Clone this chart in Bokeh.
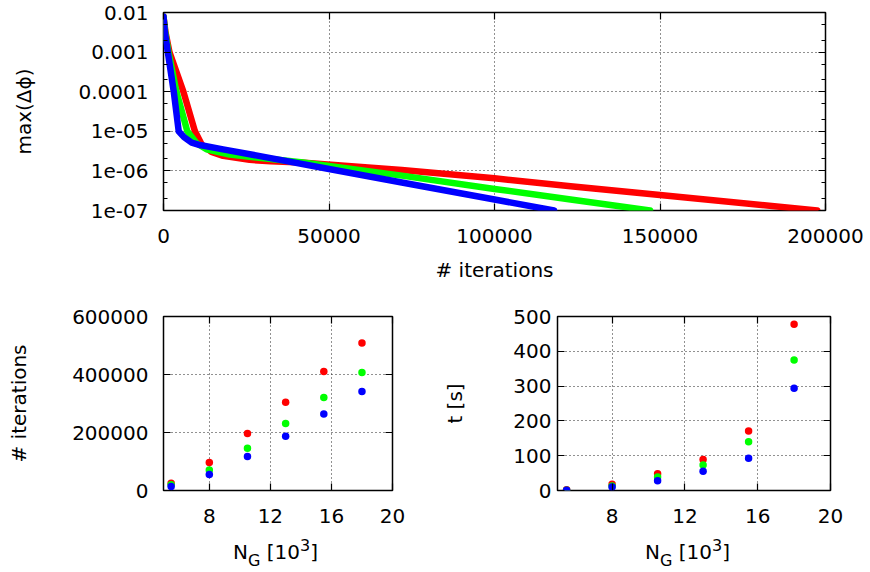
from bokeh.plotting import figure
from bokeh.layouts import column, row
from bokeh.models import (Range1d, FixedTicker, CustomJSTickFormatter,
                          LinearAxis, LogAxis, Div)
from bokeh.embed import file_html
from bokeh.resources import INLINE

FONT = "DejaVu Sans"
FS = "20px"
RED, GREEN, BLUE = "#ff0000", "#00ff00", "#0000ff"

# ---------------- data: convergence history (top panel) ----------------
red_iter = [0, 600, 1800, 6000, 9500, 11500, 14500, 18000, 26000, 32400,
            41500, 72000, 100000, 123000, 150000, 197500]
red_dphi = [7.9e-3, 3.2e-3, 1.0e-3, 1.0e-4, 1.0e-5, 4.7e-6, 3.0e-6, 2.4e-6,
            1.9e-6, 1.74e-6, 1.62e-6, 1.05e-6, 6.5e-7, 4.1e-7, 2.45e-7, 1.0e-7]

green_iter = [0, 500, 1500, 3900, 7200, 10000, 13000, 20000, 32400, 41500,
              72000, 100000, 123000, 147000]
green_dphi = [7.9e-3, 3.2e-3, 1.0e-3, 1.0e-4, 1.0e-5, 5.0e-6, 3.5e-6, 2.6e-6,
              2.0e-6, 1.66e-6, 7.6e-7, 3.5e-7, 1.9e-7, 1.0e-7]

blue_iter = [0, 400, 1300, 3100, 4600, 6200, 8500, 11000, 18000, 32400,
             50000, 72000, 100000, 118000]
blue_dphi = [7.9e-3, 3.2e-3, 1.0e-3, 1.0e-4, 1.0e-5, 7.1e-6, 5.2e-6, 4.5e-6,
             3.5e-6, 2.1e-6, 1.12e-6, 5.1e-7, 1.9e-7, 1.0e-7]

# ---------------- data: scaling with grid size (bottom panels) ----------------
n_g = [5.5, 8.0, 10.5, 13.0, 15.5, 18.0]
iters_red = [25000, 96500, 196500, 304500, 410000, 509000]
iters_green = [19500, 71000, 146000, 231000, 320500, 407000]
iters_blue = [13800, 55000, 117000, 187000, 264000, 341000]
time_red = [2, 18, 48, 89, 171, 478]
time_green = [1, 13, 39, 73, 140, 375]
time_blue = [0.5, 10, 28, 55, 93, 294]

# ---------------- ticks and tick labels ----------------
top_x_ticks = [0, 50000, 100000, 150000, 200000]
top_x_labels = ["0", "50000", "100000", "150000", "200000"]
top_y_ticks = [1e-7, 1e-6, 1e-5, 1e-4, 1e-3, 1e-2]
top_y_labels = ["1e-07", "1e-06", "1e-05", "0.0001", "0.001", "0.01"]
top_y_minor = [m * 10.0 ** k for k in range(-7, -2) for m in (2, 5)]
ng_ticks = [8, 12, 16, 20]
ng_labels = ["8", "12", "16", "20"]
iter_ticks = [0, 200000, 400000, 600000]
iter_labels = ["0", "200000", "400000", "600000"]
time_ticks = [0, 100, 200, 300, 400, 500]
time_labels = ["0", "100", "200", "300", "400", "500"]

LOOKUP = """
for (let i = 0; i < tv.length; i++) {
    const a = tv[i];
    if (a === tick || Math.abs(a - tick) <= 1e-9 * Math.max(Math.abs(a), Math.abs(tick)))
        return tl[i];
}
return "";
"""


def fmt(tick_values, tick_labels):
    return CustomJSTickFormatter(args=dict(tv=tick_values, tl=tick_labels), code=LOOKUP)


def blank():
    return CustomJSTickFormatter(code="return '';")


def style_axis(ax, standoff=12, label_standoff=10):
    ax.axis_line_color = None
    ax.major_tick_in = 7
    ax.major_tick_out = 0
    ax.minor_tick_in = 4
    ax.minor_tick_out = 0
    ax.major_tick_line_color = "black"
    ax.minor_tick_line_color = "black"
    ax.major_tick_line_width = 1.2
    ax.minor_tick_line_width = 1.0
    ax.major_label_text_font = FONT
    ax.major_label_text_font_size = FS
    ax.major_label_text_color = "black"
    ax.major_label_standoff = standoff
    ax.axis_label_text_font = FONT
    ax.axis_label_text_font_size = FS
    ax.axis_label_text_font_style = "normal"
    ax.axis_label_text_color = "black"
    ax.axis_label_standoff = label_standoff


def mirror(p, cls, ticker, side):
    ax = cls(ticker=ticker, formatter=blank())
    style_axis(ax, standoff=0, label_standoff=0)
    ax.major_label_text_font_size = "0px"
    p.add_layout(ax, side)


def base_style(p):
    p.outline_line_color = "black"
    p.outline_line_width = 1.5
    p.background_fill_color = "white"
    p.border_fill_color = "white"
    for g in (p.xgrid, p.ygrid):
        g.grid_line_color = "#222222"
        g.grid_line_dash = "1 3"
        g.grid_line_width = 1


# ---------------- top panel ----------------
p1 = figure(frame_width=662, frame_height=198,
            x_range=Range1d(0, 200000), y_range=Range1d(1e-7, 1e-2),
            y_axis_type="log", output_backend="svg", toolbar_location=None,
            min_border_left=163, min_border_right=40,
            min_border_top=12, min_border_bottom=80)
base_style(p1)
tx = FixedTicker(ticks=top_x_ticks)
ty = FixedTicker(ticks=top_y_ticks, minor_ticks=top_y_minor)
p1.xaxis.ticker = tx
p1.xaxis.formatter = fmt(top_x_ticks, top_x_labels)
p1.yaxis.ticker = ty
p1.yaxis.formatter = fmt(top_y_ticks, top_y_labels)
p1.xaxis.axis_label = "# iterations"
p1.yaxis.axis_label = "max(\u0394\u03d5)"
style_axis(p1.xaxis[0], standoff=18, label_standoff=12)
style_axis(p1.yaxis[0], standoff=15, label_standoff=40)
mirror(p1, LinearAxis, tx, "above")
mirror(p1, LogAxis, ty, "right")

for xs, ys, c in ((red_iter, red_dphi, RED), (green_iter, green_dphi, GREEN),
                  (blue_iter, blue_dphi, BLUE)):
    p1.line(xs, ys, line_color=c, line_width=6.5, line_cap="round", line_join="round")


# ---------------- bottom panels ----------------
def ng_div(width, left):
    html = ('<div style="position:relative; left:%dpx; top:11px; white-space:nowrap; '
            'font-family:\'DejaVu Sans\'; font-size:20px; line-height:23px; color:black;">'
            'N<span style="font-size:16px; position:relative; top:7px;">G</span>'
            ' [10<span style="font-size:16px; position:relative; top:-8px;">3</span>]'
            '</div>') % left
    return Div(text=html, width=width, height=40, margin=(0, 0, 0, 0))


def bottom(frame_w, yr, yticks, ylabels, ylab, mb_left, mb_right, tick_standoff, lab_standoff):
    p = figure(frame_width=frame_w, frame_height=174,
               x_range=Range1d(5, 20), y_range=Range1d(*yr),
               output_backend="svg", toolbar_location=None,
               min_border_left=mb_left, min_border_right=mb_right,
               min_border_top=26, min_border_bottom=40)
    base_style(p)
    bx = FixedTicker(ticks=ng_ticks)
    by = FixedTicker(ticks=yticks)
    p.xaxis.ticker = bx
    p.xaxis.formatter = fmt(ng_ticks, ng_labels)
    p.yaxis.ticker = by
    p.yaxis.formatter = fmt(yticks, ylabels)
    p.yaxis.axis_label = ylab
    style_axis(p.xaxis[0], standoff=18)
    style_axis(p.yaxis[0], standoff=tick_standoff, label_standoff=lab_standoff)
    mirror(p, LinearAxis, bx, "above")
    mirror(p, LinearAxis, by, "right")
    return p


p2 = bottom(229, (0, 600000), iter_ticks, iter_labels, "# iterations", 163, 48, 15, 38)
for ys, c in ((iters_red, RED), (iters_green, GREEN), (iters_blue, BLUE)):
    p2.scatter(n_g, ys, size=7.5, fill_color=c, line_color=None)

p3 = bottom(273, (0, 500), time_ticks, time_labels, "t [s]", 113, 40, 6, 43)
for ys, c in ((time_red, RED), (time_green, GREEN), (time_blue, BLUE)):
    p3.scatter(n_g, ys, size=7.5, fill_color=c, line_color=None)

d2 = ng_div(440, 233)
d3 = ng_div(426, 205)

layout = column(p1, row(column(p2, d2), column(p3, d3)))
open("out.html", "w").write(file_html(layout, INLINE))
